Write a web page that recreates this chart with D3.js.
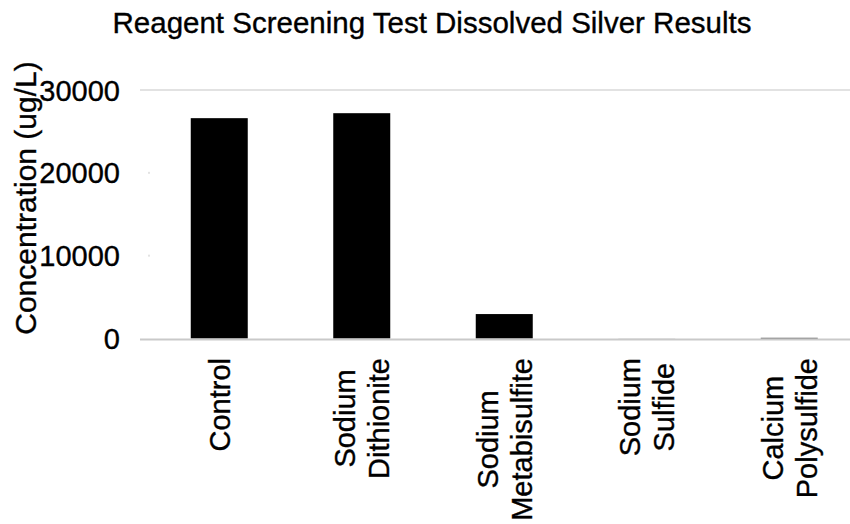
<!DOCTYPE html>
<html>
<head>
<meta charset="utf-8">
<script src="https://cdn.jsdelivr.net/npm/d3@7"></script>
<style>
  html, body { margin: 0; padding: 0; background: #fff; }
  svg { display: block; }
  text { font-family: "Liberation Sans", Arial, sans-serif; fill: #000; stroke: #000; stroke-width: 0.35px; }
</style>
</head>
<body>
<svg id="chart" width="850" height="524"></svg>
<script>
// Dissolved silver by reagent (ug/L)
const categories = ["Control", "Sodium Dithionite", "Sodium Metabisulfite", "Sodium Sulfide", "Calcium Polysulfide"];
const categoryLines = [["Control"], ["Sodium", "Dithionite"], ["Sodium", "Metabisulfite"], ["Sodium", "Sulfide"], ["Calcium", "Polysulfide"]];
const values = [26600, 27200, 2950, 10, 80];
const yTicks = [0, 10000, 20000, 30000];
const titleText = "Reagent Screening Test Dissolved Silver Results";
const yTitle = "Concentration (ug/L)";

const svg = d3.select("#chart");
const fs = 29;

const x = d3.scaleBand()
  .domain(categories)
  .range([148, 860.5])
  .paddingInner(0.6)
  .paddingOuter(0.3);

const y = d3.scaleLinear()
  .domain([0, 30000])
  .range([338.5, 90]);

// title
svg.append("text")
  .attr("x", 432)
  .attr("y", 33)
  .attr("text-anchor", "middle")
  .style("font-size", "29.5px")
  .text(titleText);

// top gridline
svg.append("line")
  .attr("x1", 140).attr("x2", 850)
  .attr("y1", y(30000)).attr("y2", y(30000))
  .attr("stroke", "#c6c6c6").attr("stroke-width", 1.2);

// small marks at intermediate ticks
svg.selectAll("rect.tickmark")
  .data(yTicks.filter(t => t > 0 && t < 30000))
  .join("rect")
  .attr("class", "tickmark")
  .attr("x", 148.5).attr("width", 1)
  .attr("y", d => y(d) - 1).attr("height", 2)
  .attr("fill", "#c8c8c8");

// bars
svg.selectAll("rect.bar")
  .data(categories)
  .join("rect")
  .attr("class", "bar")
  .attr("x", d => x(d))
  .attr("width", x.bandwidth())
  .attr("y", (d, i) => y(values[i]))
  .attr("height", (d, i) => y(0) - y(values[i]))
  .attr("fill", "#000");

// baseline
svg.append("line")
  .attr("x1", 140).attr("x2", 850)
  .attr("y1", 339.5).attr("y2", 339.5)
  .attr("stroke", "#c9c9c9").attr("stroke-width", 2);

// y tick labels
const yAxis = d3.axisLeft(y).tickValues(yTicks).tickSize(0).tickPadding(0).tickFormat(d3.format("d"));
const gy = svg.append("g").attr("transform", "translate(120,0)").call(yAxis);
gy.select(".domain").remove();
gy.selectAll("text")
  .attr("dy", null)
  .attr("y", 10)
  .style("font-size", fs + "px")
  .style("font-family", "'Liberation Sans', Arial, sans-serif")
  .attr("fill", "#000");

// y axis title
svg.append("text")
  .attr("transform", "translate(36,198) rotate(-90)")
  .attr("text-anchor", "middle")
  .style("font-size", "30px")
  .text(yTitle);

// rotated category labels, lines centered on each other, longest line ending near the axis
const lineGap = 34;
categories.forEach((c, i) => {
  const lines = categoryLines[i];
  const cx = x(c) + x.bandwidth() / 2;
  const g = svg.append("g");
  const texts = lines.map((ln, j) => g.append("text")
    .attr("text-anchor", "middle")
    .style("font-size", fs + "px")
    .text(ln));
  const maxLen = d3.max(texts, t => t.node().getComputedTextLength());
  const cy = 358 + maxLen / 2;
  texts.forEach((t, j) => {
    const bx = cx + 10.5 + (j - (lines.length - 1) / 2) * lineGap;
    t.attr("transform", `translate(${bx},${cy}) rotate(-90)`);
  });
});
</script>
</body>
</html>
